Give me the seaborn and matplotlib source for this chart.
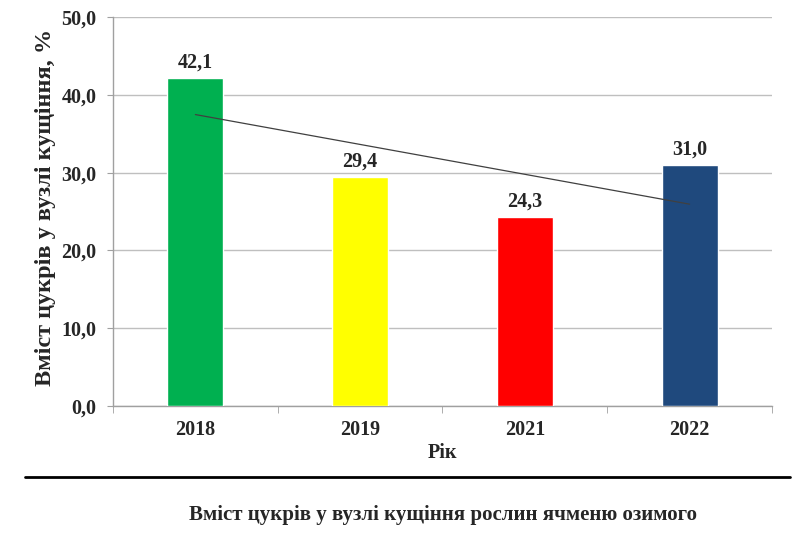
import numpy as np
import pandas as pd
import seaborn as sns
import matplotlib.pyplot as plt
from matplotlib.lines import Line2D

years = ["2018", "2019", "2021", "2022"]
sugar = [42.1, 29.4, 24.3, 31.0]
bar_colors = ["#00B050", "#FFFF00", "#FF0000", "#1F497D"]
y_ticks = [0, 10, 20, 30, 40, 50]

sns.set_style("white")
plt.rcParams["font.family"] = ["Liberation Serif", "DejaVu Serif"]
plt.rcParams["font.weight"] = "bold"

df = pd.DataFrame({"Рік": years, "Цукри": sugar})

fig = plt.figure(figsize=(8.12, 5.42), dpi=100)
ax = fig.add_axes([113 / 812, 1 - 406 / 542, (772 - 113) / 812, (406 - 17) / 542])

sns.barplot(data=df, x="Рік", y="Цукри", hue="Рік", palette=bar_colors,
            legend=False, width=0.34, saturation=1, ax=ax, zorder=3)

# linear trend through bar values
xs = np.arange(len(sugar))
k, b = np.polyfit(xs, sugar, 1)
ax.plot(xs, k * xs + b, color="#404040", lw=0.9, zorder=4)

for i, v in enumerate(sugar):
    ax.text(i, v + 0.7, f"{v:.1f}".replace(".", ","), ha="center", va="bottom",
            fontsize=14.5, fontweight="bold")

ax.set_ylim(0, 50)
ax.set_xlim(-0.5, len(years) - 0.5)
ax.set_yticks(y_ticks)
ax.set_yticklabels([f"{t:.1f}".replace(".", ",") for t in y_ticks], fontsize=14.5, fontweight="bold")
ax.set_xticks(xs)
ax.set_xticklabels(years, fontsize=14.5, fontweight="bold")
ax.yaxis.grid(True, color="#BFBFBF", lw=1, zorder=0)
ax.tick_params(axis="x", length=0, pad=10)
ax.tick_params(axis="y", length=4, color="#A0A0A0", left=True, pad=8, direction="out")
# category boundary ticks on x axis
ax.set_xticks(np.arange(-0.5, len(years), 1), minor=True)
ax.tick_params(axis="x", which="minor", length=5, color="#A0A0A0", bottom=True, direction="out")

for s in ["top", "right"]:
    ax.spines[s].set_visible(False)
for s in ["left", "bottom"]:
    ax.spines[s].set_color("#A0A0A0")
    ax.spines[s].set_linewidth(1)

ax.set_xlabel("Рік", fontsize=14.5, fontweight="bold", labelpad=2)
ax.set_ylabel("Вміст цукрів у вузлі кущіння, %", fontsize=17.5, fontweight="bold")
ax.yaxis.set_label_coords(-(113 - 56) / (772 - 113), (406 - 207) / (406 - 17))

fig.add_artist(Line2D([25 / 812, 790 / 812], [1 - 477 / 542, 1 - 477 / 542],
                      color="black", lw=2, transform=fig.transFigure))
fig.text(443 / 812, 1 - 515 / 542, "Вміст цукрів у вузлі кущіння рослин ячменю озимого",
         ha="center", va="center", fontsize=15, fontweight="bold")

fig.savefig("out.png", dpi=100)
